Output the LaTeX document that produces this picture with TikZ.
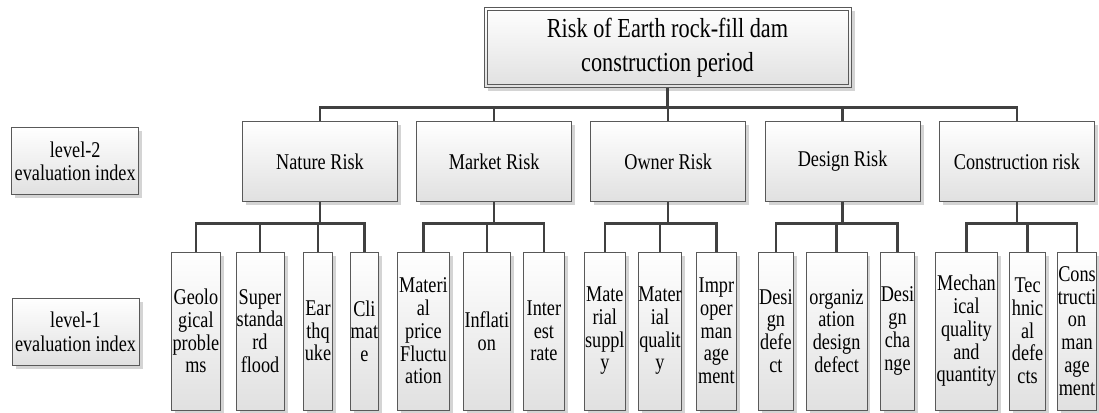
\documentclass[tikz,border=0pt]{standalone}
\usepackage{fontspec}
\setmainfont{Liberation Serif}[FakeStretch=0.81]
\usetikzlibrary{shadows,calc}
\tikzset{
  box/.style={draw=black!65, line width=0.7pt, top color=white, bottom color=black!12,
    inner sep=0pt, align=center, font=\fontsize{22.5}{22.7}\selectfont,
    drop shadow={fill=black!17, opacity=1, shadow xshift=3.5pt, shadow yshift=-3.5pt}},
  leaf/.style={box, minimum height=158pt},
  riskbox/.style={box, minimum width=155pt, minimum height=80pt},
  labelbox/.style={box, minimum width=127pt, minimum height=67pt, font=\fontsize{22.5}{23.3}\selectfont},
  conn/.style={draw=black!75, line width=2.4pt},
}
\begin{document}
\begin{tikzpicture}[x=1pt, y=-1pt]
\useasboundingbox (0,0) rectangle (1099,412);

% top
\node[box, minimum width=367pt, minimum height=80pt, font=\fontsize{27.5}{34}\selectfont] (top) at (667.5,47.3) {Risk of Earth rock-fill dam\\construction period};
\draw[draw=black!65, line width=0.7pt] ([shift={(3.3,3.3)}]top.north west) rectangle ([shift={(-3.3,-3.3)}]top.south east);

% labels
\node[labelbox] (lab2) at (75.2,161) {level-2\\evaluation index};
\node[labelbox] (lab1) at (75.5,331.8) {level-1\\evaluation index};

% level 2
\node[riskbox] (nat) at (320,161.5) {Nature Risk};
\node[riskbox] (mkt) at (494.2,161.5) {Market Risk};
\node[riskbox] (own) at (668.2,161.5) {Owner Risk};
\node[riskbox] (des) at (842.6,161.5) {Design Risk};
\node[riskbox] (con) at (1016.9,161.5) {Construction risk};

% level 1
\node[leaf, minimum width=48.8pt] (geo) at (195.9,331) {Geolo\\gical\\proble\\ms};
\node[leaf, minimum width=48pt] (sup) at (260,331) {Super\\standa\\rd\\flood};
\node[leaf, minimum width=29.1pt] (ear) at (318,331) {Ear\\thq\\uke};
\node[leaf, minimum width=28.8pt] (cli) at (364.4,331) {Cli\\mat\\e};
\node[leaf, minimum width=52.7pt] (mat) at (423.4,331) {Materi\\al\\price\\Fluctu\\ation};
\node[leaf, minimum width=47.5pt] (inf) at (486.8,331) {Inflati\\on};
\node[leaf, minimum width=40.8pt] (int) at (543.9,331) {Inter\\est\\rate};
\node[leaf, minimum width=41pt] (msu) at (604.8,331) {Mate\\rial\\suppl\\y};
\node[leaf, minimum width=42.7pt] (mqu) at (660,331) {Mater\\ial\\qualit\\y};
\node[leaf, minimum width=39.9pt] (imp) at (716.4,331) {Impr\\oper\\man\\age\\ment};
\node[leaf, minimum width=35.1pt] (dd) at (775.9,331) {Desi\\gn\\defe\\ct};
\node[leaf, minimum width=60.6pt] (odd) at (836.6,331) {organiz\\ation\\design\\defect};
\node[leaf, minimum width=34.6pt] (dc) at (897.5,331) {Desi\\gn\\cha\\nge};
\node[leaf, minimum width=62.3pt] (mech) at (966.4,331) {Mechan\\ical\\quality\\and\\quantity};
\node[leaf, minimum width=35.8pt] (tech) at (1027.6,331) {Tec\\hnic\\al\\defe\\cts};
\node[leaf, minimum width=38.5pt] (cons) at (1077,331) {Cons\\tructi\\on\\man\\age\\ment};

% connectors top -> level 2
\coordinate (b0) at (top.south |- 0,107.3);
\draw[conn] (top.south) -- (b0);
\foreach \n in {nat,mkt,own,des,con} \draw[conn] (b0) -| (\n.north);

% connectors level 2 -> level 1
\foreach \p/\kids in {nat/{geo,sup,ear,cli}, mkt/{mat,inf,int}, own/{msu,mqu,imp}, des/{dd,odd,dc}, con/{mech,tech,cons}} {
  \coordinate (b-\p) at (\p.south |- 0,223.5);
  \draw[conn] (\p.south) -- (b-\p);
  \foreach \k in \kids \draw[conn] (b-\p) -| (\k.north);
}
\end{tikzpicture}
\end{document}
